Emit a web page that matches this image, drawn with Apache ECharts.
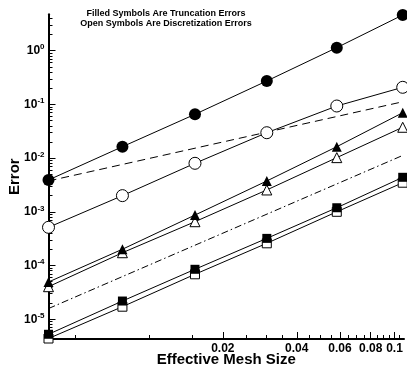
<!DOCTYPE html>
<html>
<head>
<meta charset="utf-8">
<script src="https://cdn.jsdelivr.net/npm/echarts@6/dist/echarts.min.js"></script>
<style>
    html, body { margin: 0; padding: 0; background: #fff; }
    #chart { width: 407px; height: 374px; }
</style>
</head>
<body>
<div id="chart"></div>
<script>
    // effective mesh size of each grid level
    var meshSize = [0.0039, 0.0078, 0.0154, 0.0302, 0.0582, 0.108];

    // filled symbols: truncation errors
    var truncCircle   = [3.91e-3, 0.0163, 0.0654, 0.273, 1.14, 4.62];
    var truncTriangle = [4.93e-5, 2.01e-4, 8.7e-4, 3.75e-3, 0.0163, 0.070];
    var truncSquare   = [5.24e-6, 2.18e-5, 8.5e-5, 3.2e-4, 1.19e-3, 4.39e-3];

    // open symbols: discretization errors
    var discCircle   = [5.14e-4, 2.0e-3, 8.0e-3, 0.0297, 0.0933, 0.208];
    var discTriangle = [4.03e-5, 1.73e-4, 6.54e-4, 2.55e-3, 0.0102, 0.0375];
    var discSquare   = [4.37e-6, 1.71e-5, 6.86e-5, 2.59e-4, 1.0e-3, 3.48e-3];

    // reference slopes (first order dashed, second order dash-dot)
    var refMesh   = [0.0039, 0.109];
    var refFirst  = [3.75e-3, 0.113];
    var refSecond = [1.58e-5, 0.01142];

    // axis ranges and ticks
    var xRange = [0.0039, 0.1093];
    var yRange = [4.28e-6, 4.76];
    var xMajorTicks = [0.02, 0.04, 0.06, 0.08, 0.1];
    var xMinorTicks = [0.005, 0.01, 0.015, 0.025, 0.03, 0.035, 0.045, 0.05, 0.055,
                       0.065, 0.07, 0.075, 0.085, 0.09, 0.095, 0.105];
    var yMajorTicks = [1e-5, 1e-4, 1e-3, 1e-2, 1e-1, 1];
    var yMinorFactors = [2, 3, 4, 5, 6, 7, 8, 9];

    var font = 'Liberation Sans, Arial, sans-serif';

    function lg(v) { return Math.log10(v); }

    function pairs(xs, ys) {
        return xs.map(function (x, i) { return [lg(x), lg(ys[i])]; });
    }

    var yMinorTicks = [];
    for (var n = -6; n <= 0; n++) {
        yMinorFactors.forEach(function (f) {
            var v = f * Math.pow(10, n);
            if (v > yRange[0] && v < yRange[1]) yMinorTicks.push(v);
        });
    }

    function markSeries(ys, symbol, size, filled) {
        return {
            type: 'line',
            data: pairs(meshSize, ys),
            symbol: symbol,
            symbolSize: size,
            showAllSymbol: true,
            z: filled ? 4 : 3,
            lineStyle: { color: '#000', width: 1 },
            itemStyle: filled
                ? { color: '#000', borderWidth: 0 }
                : { color: '#fff', borderColor: '#000', borderWidth: 1 },
            emphasis: { disabled: true }
        };
    }

    function refSeries(ys, dash) {
        return {
            type: 'line',
            data: pairs(refMesh, ys),
            symbol: 'none',
            z: 2,
            lineStyle: { color: '#000', width: 1, type: dash },
            emphasis: { disabled: true }
        };
    }

    var gridBox = { left: 48.5, right: 3, top: 14.3, bottom: 35, outerBoundsMode: 'none' };

    var myChart = echarts.init(document.getElementById('chart'));
    var option = {
        animation: false,
        backgroundColor: '#fff',
        title: {
            text: 'Filled Symbols Are Truncation Errors\nOpen Symbols Are Discretization Errors',
            left: 161,
            top: 4,
            textAlign: 'center',
            textStyle: { fontFamily: font, fontSize: 9, fontWeight: 'bold', color: '#000', lineHeight: 10 }
        },
        grid: [
            Object.assign({}, gridBox),
            Object.assign({}, gridBox)
        ],
        xAxis: [
            {
                type: 'value',
                gridIndex: 0,
                min: lg(xRange[0]),
                max: lg(xRange[1]),
                name: 'Effective Mesh Size',
                nameLocation: 'middle',
                nameGap: 13,
                nameMoveOverlap: false,
                nameTextStyle: { fontFamily: font, fontSize: 15, fontWeight: 'bold', color: '#000' },
                axisLine: { show: true, onZero: false, lineStyle: { color: '#000', width: 2 } },
                axisTick: {
                    show: true, inside: true, length: 7,
                    customValues: xMajorTicks.map(lg),
                    lineStyle: { color: '#000', width: 1 }
                },
                axisLabel: {
                    customValues: xMajorTicks.map(lg),
                    formatter: function (v) { return String(+Math.pow(10, v).toPrecision(2)); },
                    fontFamily: font, fontSize: 12, fontWeight: 'bold', color: '#000', margin: 4
                },
                splitLine: { show: false }
            },
            {
                type: 'value',
                gridIndex: 1,
                min: lg(xRange[0]),
                max: lg(xRange[1]),
                axisLine: { show: false, onZero: false },
                axisTick: {
                    show: true, inside: true, length: 4,
                    customValues: xMinorTicks.map(lg),
                    lineStyle: { color: '#000', width: 1 }
                },
                axisLabel: { show: false },
                splitLine: { show: false }
            }
        ],
        yAxis: [
            {
                type: 'value',
                gridIndex: 0,
                min: lg(yRange[0]),
                max: lg(yRange[1]),
                name: 'Error',
                nameLocation: 'middle',
                nameGap: 26,
                nameMoveOverlap: false,
                nameTextStyle: { fontFamily: font, fontSize: 15, fontWeight: 'bold', color: '#000' },
                axisLine: { show: true, onZero: false, lineStyle: { color: '#000', width: 2 } },
                axisTick: {
                    show: true, inside: true, length: 7,
                    customValues: yMajorTicks.map(lg),
                    lineStyle: { color: '#000', width: 1 }
                },
                axisLabel: {
                    customValues: yMajorTicks.map(lg),
                    formatter: function (v) { return '{b|10}{s|' + Math.round(v) + '}'; },
                    margin: 4,
                    rich: {
                        b: { fontFamily: font, fontSize: 12, fontWeight: 'bold', color: '#000', lineHeight: 14 },
                        s: { fontFamily: font, fontSize: 8, fontWeight: 'bold', color: '#000', lineHeight: 8, padding: [0, 0, 7, 0] }
                    }
                },
                splitLine: { show: false }
            },
            {
                type: 'value',
                gridIndex: 1,
                min: lg(yRange[0]),
                max: lg(yRange[1]),
                axisLine: { show: false, onZero: false },
                axisTick: {
                    show: true, inside: true, length: 4,
                    customValues: yMinorTicks.map(lg),
                    lineStyle: { color: '#000', width: 1 }
                },
                axisLabel: { show: false },
                splitLine: { show: false }
            }
        ],
        series: [
            refSeries(refFirst, [8, 5]),
            refSeries(refSecond, [7, 3, 1.5, 3]),
            markSeries(discCircle, 'circle', 12, false),
            markSeries(truncCircle, 'circle', 12, true),
            markSeries(discTriangle, 'triangle', 10, false),
            markSeries(truncTriangle, 'triangle', 10, true),
            markSeries(discSquare, 'rect', 9, false),
            markSeries(truncSquare, 'rect', 9, true)
        ]
    };
    myChart.setOption(option);
</script>
</body>
</html>
